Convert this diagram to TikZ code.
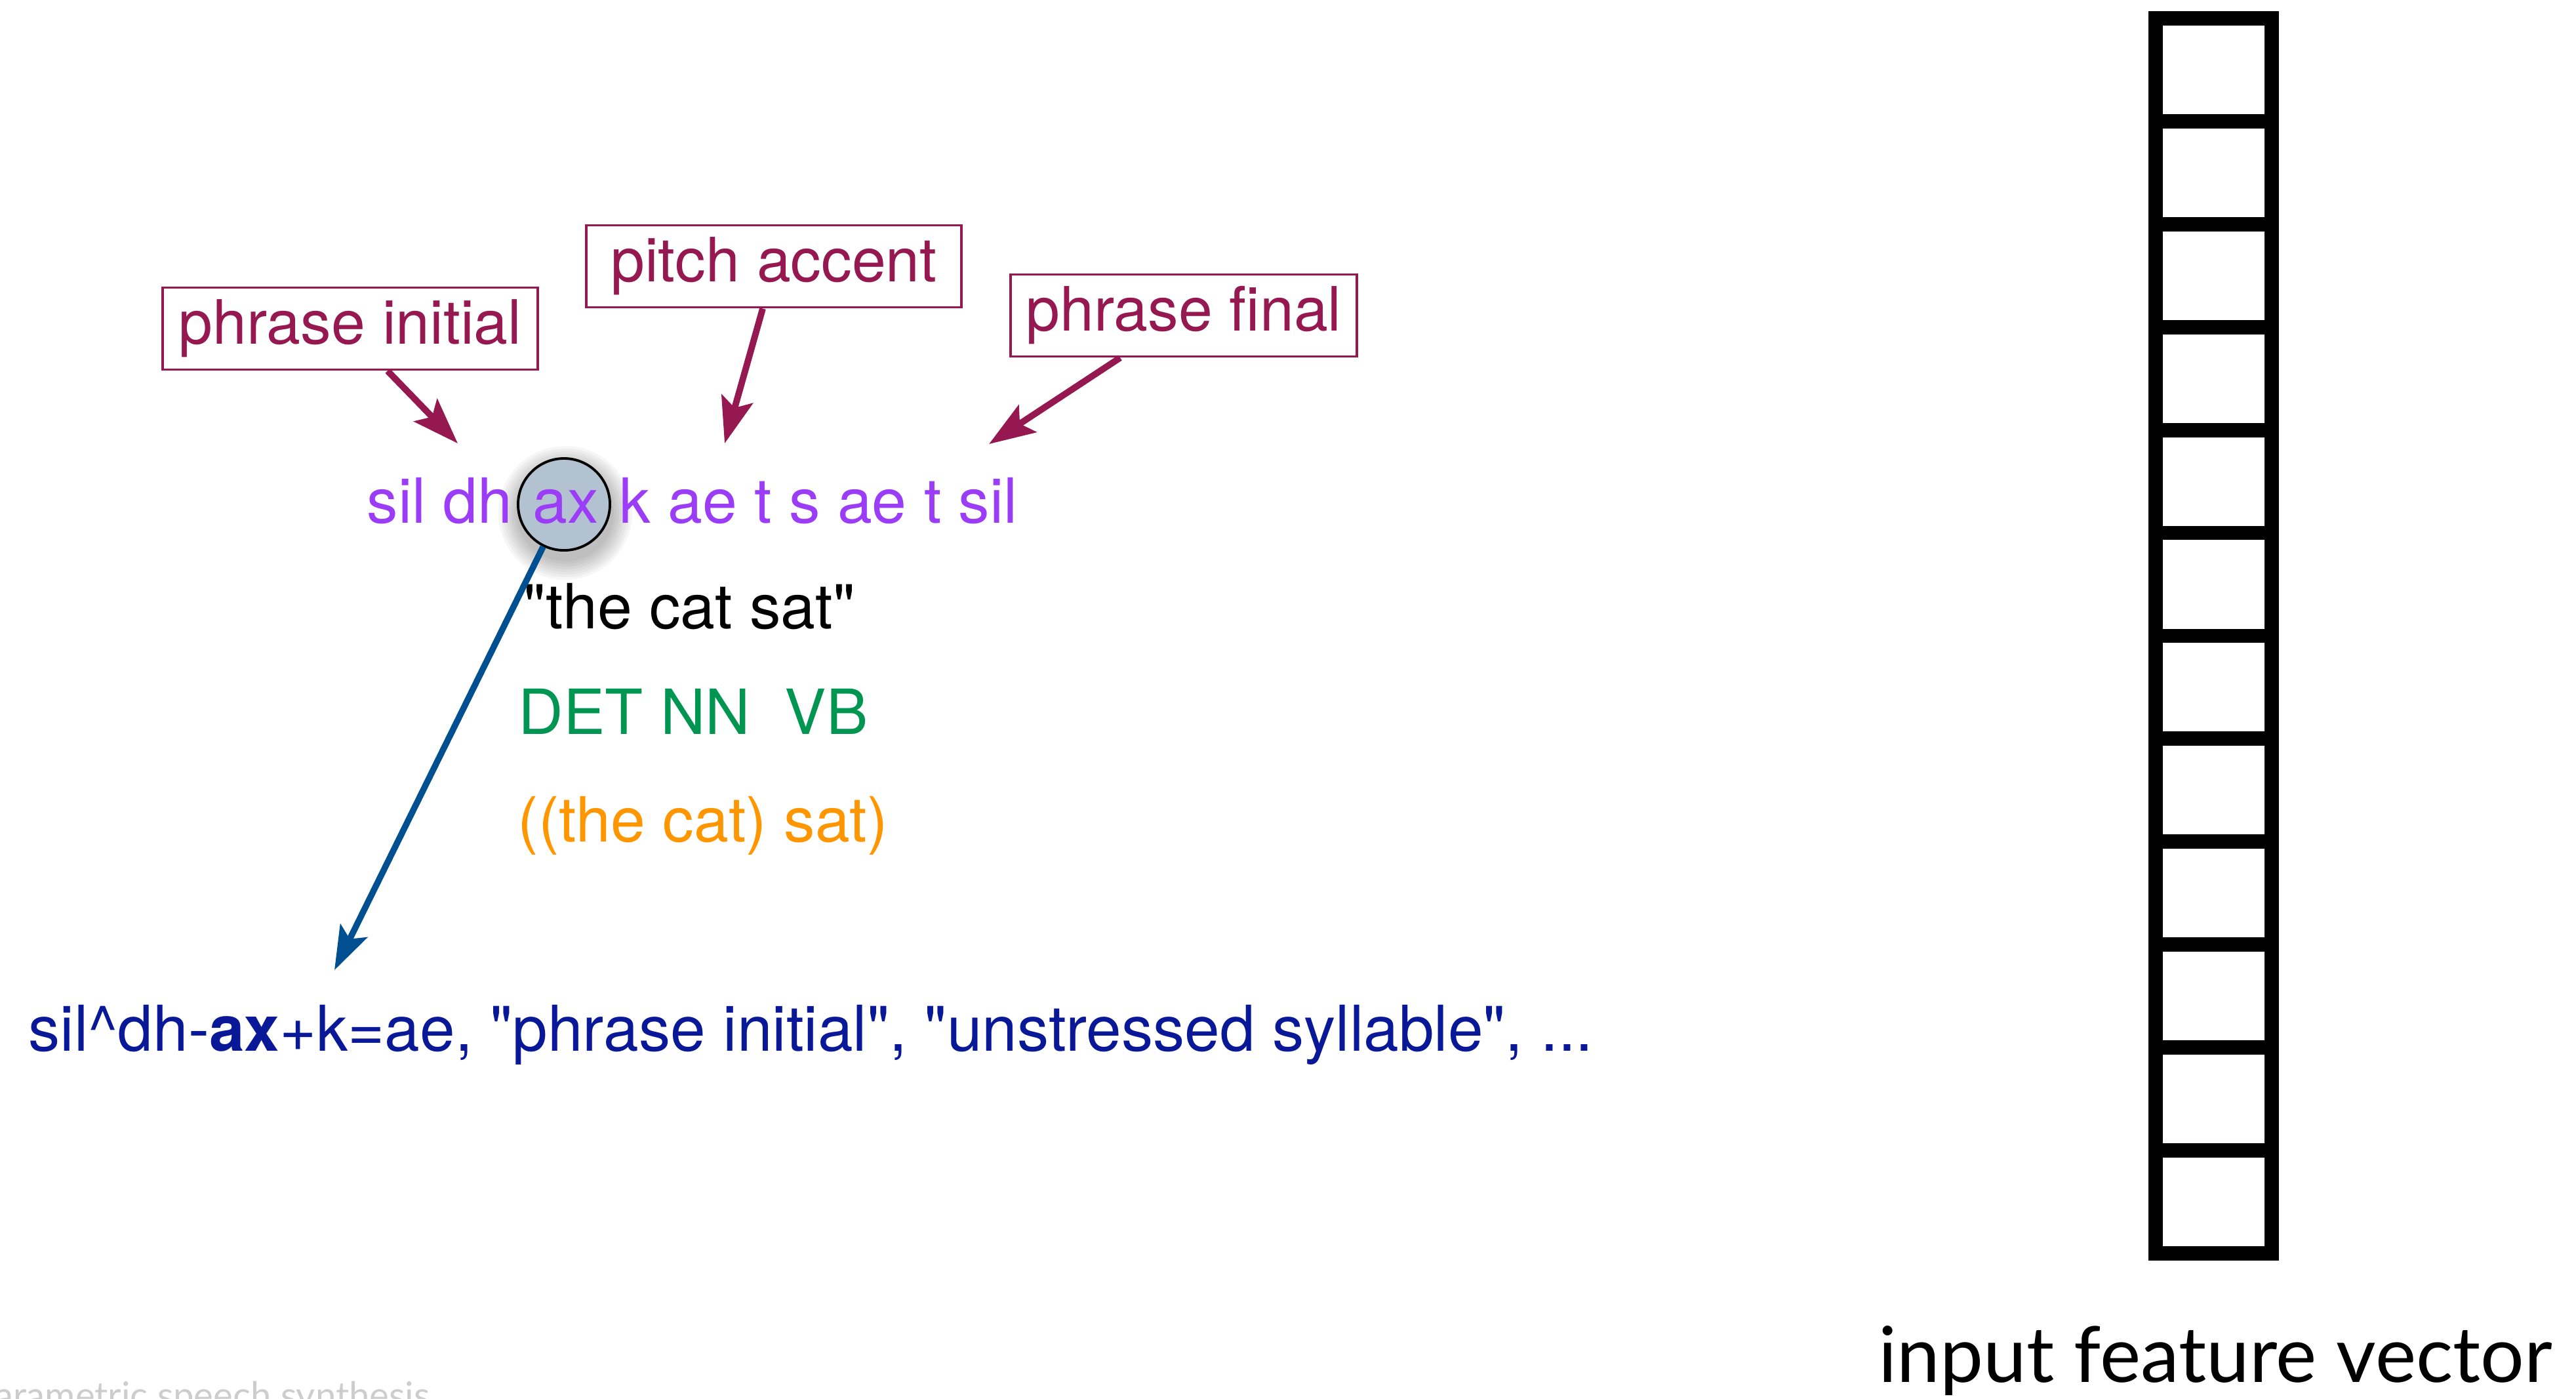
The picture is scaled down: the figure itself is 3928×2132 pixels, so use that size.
\documentclass[tikz,border=0pt]{standalone}
\usepackage{fontspec}
\setmainfont{TeX Gyre Heros}
% plain family without TeX ligature mapping, so " stays a straight quote
\newfontfamily\heros{TeX Gyre Heros}
\newfontfamily\humsans{Lato}
\usetikzlibrary{arrows.meta,calc}

\definecolor{labred}{RGB}{149,24,80}
\definecolor{phonpurple}{RGB}{155,60,247}
\definecolor{posgreen}{RGB}{0,150,82}
\definecolor{treeorange}{RGB}{255,150,0}
\definecolor{ctxnavy}{RGB}{8,24,150}
\definecolor{linkblue}{RGB}{0,80,145}
\definecolor{ringfill}{RGB}{178,194,208}
\definecolor{footgrey}{RGB}{205,205,205}

\newcommand{\bodysize}{\heros\fontsize{27pt}{32pt}\selectfont}

\begin{document}
\begin{tikzpicture}[x=0.01cm, y=-0.01cm,
  labelbox/.style={draw=labred, line width=1.1pt, text=labred, inner sep=0pt,
    font=\heros\fontsize{26.5pt}{30pt}\selectfont, minimum height=1.25cm},
  labelarrow/.style={draw=labred, line width=2.8pt,
    -{Stealth[length=20pt, width=14pt, inset=4pt]}},
  linkarrow/.style={draw=linkblue, line width=2.7pt,
    -{Stealth[length=19pt, width=13pt, inset=4pt]}},
  phon/.style={text=phonpurple, font=\bodysize, inner sep=0pt},
  plain/.style={font=\bodysize, inner sep=0pt},
  ring/.style={circle, draw=black, line width=1.1pt, fill=ringfill,
    minimum size=1.4cm, inner sep=0pt},
  cellbox/.style={draw=black, line width=6.2pt}
]
\useasboundingbox (0,0) rectangle (3928,2132);

% annotation boxes
\node[labelbox, minimum width=5.72cm] (pinit) at (534,501) {phrase initial};
\node[labelbox, minimum width=5.72cm] (pacc)  at (1180,406) {pitch accent};
\node[labelbox, minimum width=5.28cm] (pfin)  at (1805,481) {phrase final};

% arrow targets above the phone string
\coordinate (tinit) at (698,676);
\coordinate (tacc)  at (1105,676);
\coordinate (tfin)  at (1508,677);

\draw[labelarrow] ($(pinit.south)+(57,0)$) -- (tinit);
\draw[labelarrow] ($(pacc.south)+(-17,0)$) -- (tacc);
\draw[labelarrow] ($(pfin.south)+(-97,0)$) -- (tfin);

% soft shadow and highlight ring around the current phone
\foreach \r in {74,78,...,102}
  \fill[black, opacity=0.035] (862,782) circle[radius=\r];
\node[ring] (axmark) at (860,769) {};

% phone string
\node[phon, anchor=base] (ax) at (863,797) {ax};
\node[phon, anchor=base east] (phpre) at ($(ax.base west)+(-30,0)$) {sil dh};
\node[phon, anchor=base west] (phpost) at ($(ax.base east)+(30,0)$) {k ae t s ae t sil};

% linguistic layers
\node[plain, anchor=base west] (words) at (798,958) {"the cat sat"};
\node[plain, anchor=base west, text=posgreen] (pos) at (790,1119) {DET NN~ VB};
\node[plain, anchor=base west, text=treeorange] (tree) at (789,1283) {((the cat) sat)};

% context-dependent label
\coordinate (tlink) at (510,1479);
\draw[linkarrow] (axmark) -- (tlink);
\node[plain, anchor=base west, text=ctxnavy, font=\heros\fontsize{27.4pt}{32pt}\selectfont]
  (ctx) at (43,1602)
  {sil\textasciicircum dh-\textbf{ax}+k=ae, "phrase initial", "unstressed syllable", ...};

% input feature vector
\foreach \i in {0,...,11}
  \draw[cellbox] (3287,{28+\i*156.9}) rectangle (3464,{28+(\i+1)*156.9});
\node[anchor=base, inner sep=0pt, font=\humsans\fontsize{33.5pt}{38pt}\selectfont]
  (veclabel) at (3378,2107) {input feature vector};

% footer
\node[anchor=base east, inner sep=0pt, text=footgrey,
  font=\humsans\fontsize{16pt}{19pt}\selectfont] (footer) at (656,2147)
  {parametric speech synthesis};
\end{tikzpicture}
\end{document}
